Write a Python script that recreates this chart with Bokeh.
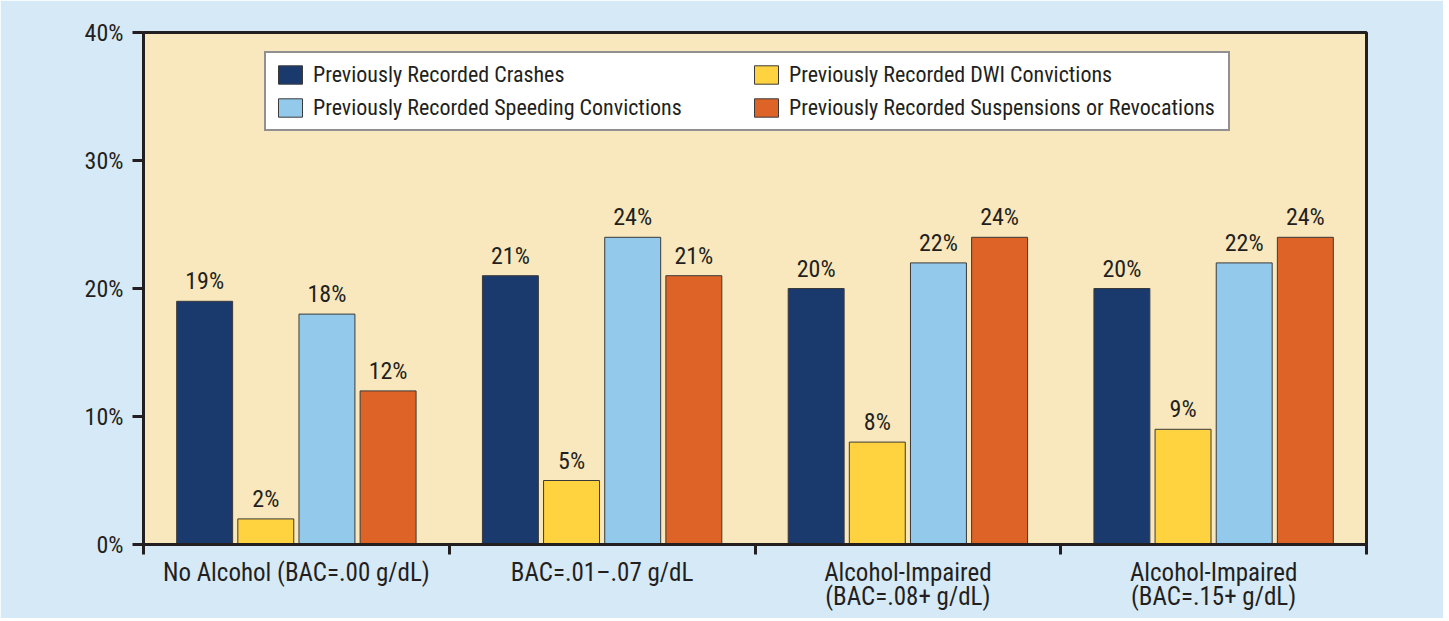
from bokeh.plotting import figure
from bokeh.models import (ColumnDataSource, Range1d, FixedTicker, Legend, LegendItem)
from bokeh.transform import dodge
from bokeh.core.properties import value
from bokeh.embed import file_html
from bokeh.resources import INLINE

# ---- data ----
categories = ["No Alcohol (BAC=.00 g/dL)", "BAC=.01\u2013.07 g/dL",
              "Alcohol-Impaired\n(BAC=.08+ g/dL)", "Alcohol-Impaired\n(BAC=.15+ g/dL)"]
crashes = [19, 21, 20, 20]
dwi = [2, 5, 8, 9]
speeding = [18, 24, 22, 22]
suspensions = [12, 21, 24, 24]
series_names = ["Previously Recorded Crashes", "Previously Recorded DWI Convictions",
                "Previously Recorded Speeding Convictions",
                "Previously Recorded Suspensions or Revocations"]
y_ticks = [0, 10, 20, 30, 40]
y_tick_labels = ["0%", "10%", "20%", "30%", "40%"]

# ---- styles ----
FONT = "Liberation Sans Narrow, Roboto Condensed, Arial Narrow, sans-serif"
TXT = "#231f20"
colors = ["#1a3a6e", "#ffd23f", "#93c9ea", "#de6327"]
offsets = [-0.3, -0.1, 0.1, 0.3]
series = [crashes, dwi, speeding, suspensions]

centers = [i + 0.5 for i in range(len(categories))]
data = dict(x=centers)
for k, s in enumerate(series):
    data[f"s{k}"] = s
    data[f"l{k}"] = [f"{v}%" for v in s]
src = ColumnDataSource(data)

p = figure(width=1443, height=618, output_backend="svg", toolbar_location=None,
           x_range=Range1d(0, len(categories)), y_range=Range1d(0, 40),
           min_border_left=143, min_border_right=77, min_border_top=32,
           min_border_bottom=74)
p.frame_width = 1223
p.frame_height = 512
p.background_fill_color = "#f9e8bd"
p.border_fill_color = "#d6e9f6"
p.outline_line_color = TXT
p.outline_line_width = 3
p.xgrid.visible = False
p.ygrid.visible = False

renderers = []
for k in range(4):
    r = p.vbar(x=dodge("x", offsets[k], range=p.x_range), top=f"s{k}", width=0.183,
               source=src, fill_color=colors[k], line_color="#3a3a3a", line_width=1)
    renderers.append(r)
    p.text(x=dodge("x", offsets[k], range=p.x_range), y=f"s{k}", text=f"l{k}", source=src,
           text_font=value(FONT), text_font_size="24px", text_color=TXT,
           text_align="center", text_baseline="bottom", y_offset=-6)

# y axis
ya = p.yaxis[0]
ya.ticker = FixedTicker(ticks=y_ticks, minor_ticks=[])
ya.major_label_overrides = {t: l for t, l in zip(y_ticks, y_tick_labels)}
ya.major_label_text_font = FONT
ya.major_label_text_font_size = "24px"
ya.major_label_text_color = TXT
ya.axis_line_color = TXT
ya.axis_line_width = 3
ya.major_tick_line_color = TXT
ya.major_tick_line_width = 3
ya.major_tick_out = 11
ya.major_tick_in = 0
ya.major_label_standoff = 9

# x axis
xa = p.xaxis[0]
xa.ticker = FixedTicker(ticks=centers, minor_ticks=list(range(len(categories) + 1)))
xa.major_label_overrides = {c: l for c, l in zip(centers, categories)}
xa.major_label_text_font = FONT
xa.major_label_text_font_size = "25px"
xa.major_label_text_color = TXT
xa.major_label_text_line_height = 0.83
xa.axis_line_color = TXT
xa.axis_line_width = 3
xa.major_tick_out = 0
xa.major_tick_in = 0
xa.minor_tick_line_color = TXT
xa.minor_tick_line_width = 3
xa.minor_tick_out = 10
xa.minor_tick_in = 0
xa.major_label_standoff = 3

order = [0, 2, 1, 3]  # legend fills column by column
items = [LegendItem(label=series_names[k], renderers=[renderers[k]]) for k in order]
legend = Legend(items=items, location=(121, 413), ncols=2,
                label_text_font=FONT, label_text_font_size="22px",
                label_text_color=TXT, glyph_width=30, glyph_height=23,
                label_width=430, label_height=23, spacing=8, padding=9, margin=0,
                border_line_color=TXT, border_line_width=2.5,
                background_fill_color="white", background_fill_alpha=1.0,
                label_standoff=8)
p.add_layout(legend, "center")

open("out.html", "w").write(file_html(p, INLINE))
